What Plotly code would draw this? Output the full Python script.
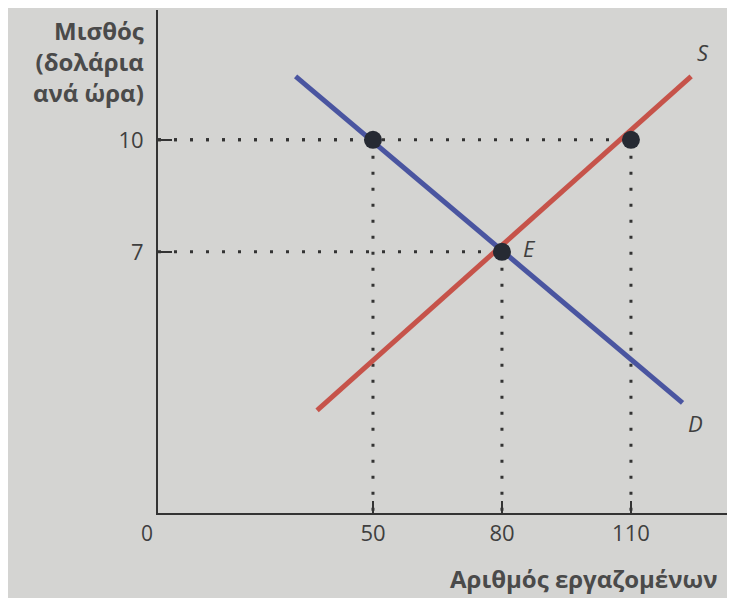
import plotly.graph_objects as go

# Data
demand_x = [32, 122]
demand_y = [11.7, 2.95]
supply_x = [37, 124]
supply_y = [2.75, 11.7]
point_x = [50, 80, 110]
point_y = [10, 7, 10]
x_ticks = [50, 80, 110]
y_ticks = [10, 7]
y_title = "Μισθός<br>(δολάρια<br>ανά ώρα)"
x_title = "Αριθμός εργαζομένων"

BG = "#d4d4d2"
TXT = "#3f3f3f"
FONT = "Open Sans"

fig = go.Figure()

# dotted guide lines
dot_style = dict(color="#333333", width=3, dash="3px,13px")
for px, py in zip(point_x, point_y):
    fig.add_trace(go.Scatter(x=[0, px], y=[py, py], mode="lines", line=dot_style,
                             hoverinfo="skip", showlegend=False))
    fig.add_trace(go.Scatter(x=[px, px], y=[py, 0], mode="lines", line=dot_style,
                             hoverinfo="skip", showlegend=False))

fig.add_trace(go.Scatter(x=supply_x, y=supply_y, mode="lines",
                         line=dict(color="#c6534a", width=5), showlegend=False))
fig.add_trace(go.Scatter(x=demand_x, y=demand_y, mode="lines",
                         line=dict(color="#4a55a0", width=5), showlegend=False))
fig.add_trace(go.Scatter(x=point_x, y=point_y, mode="markers",
                         marker=dict(color="#262a33", size=18), showlegend=False))

# curve labels
for txt, x, y in [("S", 126.7, 12.36), ("D", 124.9, 2.42), ("E", 86.5, 7.1)]:
    fig.add_annotation(x=x, y=y, text=txt, showarrow=False,
                       font=dict(family=FONT, size=22, color=TXT, style="italic"))

fig.add_annotation(x=0, y=0, xref="x", yref="y", text="0", showarrow=False,
                   xshift=-11, yshift=-20, font=dict(family=FONT, size=21, color=TXT))

fig.add_annotation(xref="paper", yref="paper", x=0, y=0.997, xanchor="right", yanchor="top",
                   xshift=-12, text=y_title, showarrow=False, align="right",
                   font=dict(family=FONT, size=24, color="#4a4a4a", weight="bold"))
fig.add_annotation(xref="x", yref="paper", x=67.4, y=-0.13, xanchor="left", yanchor="middle",
                   text=x_title, showarrow=False,
                   font=dict(family=FONT, size=24, color="#4a4a4a", weight="bold"))

fig.update_layout(
    width=727, height=590,
    margin=dict(l=150, r=0, t=2, b=85),
    paper_bgcolor=BG, plot_bgcolor=BG,
    font=dict(family=FONT, color=TXT),
)
fig.update_xaxes(range=[0, 134.2], showgrid=False, zeroline=False,
                 showline=True, linecolor="#333333", linewidth=2,
                 tickvals=x_ticks, ticktext=[str(v) for v in x_ticks],
                 ticks="inside", ticklen=12, tickwidth=2, tickcolor="#333333",
                 tickfont=dict(size=22, color=TXT, family=FONT))
fig.update_yaxes(range=[0, 13.48], showgrid=False, zeroline=False,
                 showline=True, linecolor="#333333", linewidth=2,
                 tickvals=y_ticks, ticktext=[str(v) for v in y_ticks],
                 ticks="inside", ticklen=14, tickwidth=2, tickcolor="#333333",
                 ticklabelstandoff=8,
                 tickfont=dict(size=22, color=TXT, family=FONT))

fig.write_html("out.html")
